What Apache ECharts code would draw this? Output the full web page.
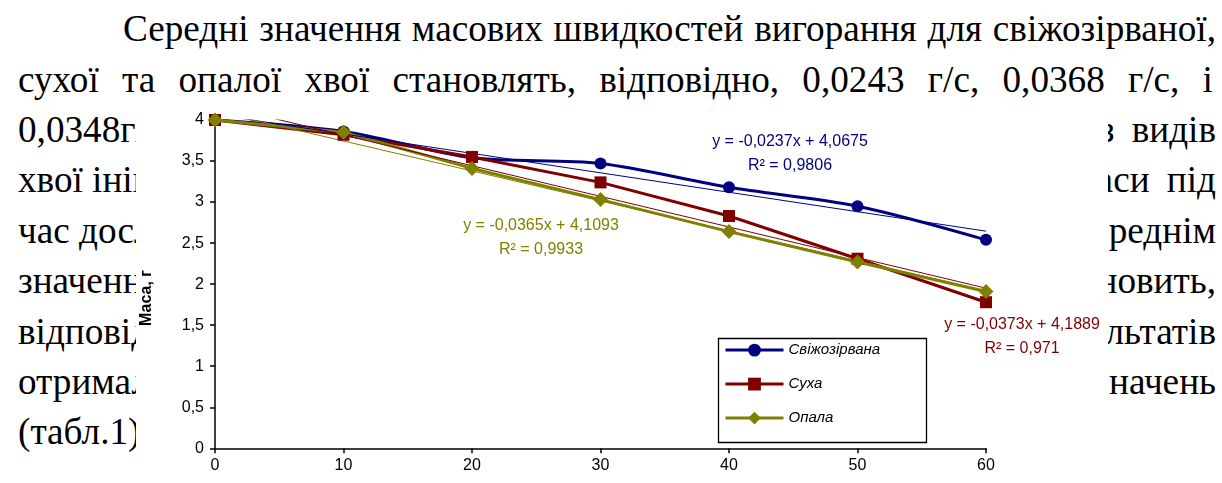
<!DOCTYPE html>
<html>
<head>
<meta charset="utf-8">
<script src="https://cdn.jsdelivr.net/npm/echarts@6/dist/echarts.min.js"></script>
<style>
html, body { margin:0; padding:0; background:#fff; width:1222px; height:483px; overflow:hidden; position:relative; }
.ln { position:absolute; font-family:"Liberation Serif","Times New Roman",serif; font-size:37.2px; line-height:37.2px; color:#000; white-space:nowrap; }
.just { display:flex; justify-content:space-between; }
.rt { text-align:right; word-spacing:8px; }
#chart { position:absolute; left:136px; top:103px; width:972px; height:380px; background:#fff; }
</style>
</head>
<body>
<div id="chart"></div>
<script>
// ---- data ----
const xValues = [0, 10, 20, 30, 40, 50, 60];
const freshMass  = [4.0, 3.86, 3.54, 3.47, 3.18, 2.95, 2.54];
const dryMass    = [4.0, 3.82, 3.55, 3.24, 2.83, 2.31, 1.78];
const fallenMass = [4.0, 3.85, 3.41, 3.03, 2.64, 2.27, 1.91];
const seriesNames = ['Свіжозірвана', 'Суха', 'Опала'];
const trendX = [0, 60];
const freshTrend  = [4.0675, 2.6455];
const dryTrend    = [4.1889, 1.9509];
const fallenTrend = [4.1093, 1.9193];
const freshEq  = ['y = -0,0237x + 4,0675', 'R² = 0,9806'];
const dryEq    = ['y = -0,0373x + 4,1889', 'R² = 0,971'];
const fallenEq = ['y = -0,0365x + 4,1093', 'R² = 0,9933'];
const xTickLabels = ['0', '10', '20', '30', '40', '50', '60'];
const yTickLabels = ['0', '0,5', '1', '1,5', '2', '2,5', '3', '3,5', '4'];
const yAxisTitle = 'Маса, г';

// ---- surrounding document text ----
const fullLines = [
  'Середні значення масових швидкостей вигорання для свіжозірваної,',
  'сухої та опалої хвої становлять, відповідно, 0,0243 г/с, 0,0368 г/с, і'
];
const leftFragments = ['0,0348г/с', 'хвої ініціює', 'час досліду', 'значення', 'відповідно', 'отримали', '(табл.1)'];
const rightFragments = ['з видів', 'маси під', 'середнім', 'становить,', 'результатів', 'значень', ''];

(function buildText(){
  const lineStep = 50.4, firstCenter = 33, topOff = 22.8;
  const body = document.body, chartEl = document.getElementById('chart');
  function mk(cls, txt, top){
    const d = document.createElement('div');
    d.className = 'ln ' + cls;
    d.style.top = (top) + 'px';
    body.insertBefore(d, chartEl);
    if (cls === 'just') {
      txt.split(' ').forEach(w => { const s = document.createElement('span'); s.textContent = w; d.appendChild(s); });
    } else d.textContent = txt;
    return d;
  }
  const l1 = mk('just', fullLines[0], firstCenter - topOff);
  l1.style.left = '123px'; l1.style.width = (1216 - 123) + 'px';
  const l2 = mk('just', fullLines[1], firstCenter + lineStep - topOff);
  l2.style.left = '18px'; l2.style.width = (1213 - 18) + 'px';
  for (let i = 0; i < leftFragments.length; i++) {
    const c = firstCenter + lineStep * (i + 2) - topOff;
    const a = mk('', leftFragments[i], c); a.style.left = '18px';
    if (rightFragments[i]) { const b = mk('rt', rightFragments[i], c); b.style.right = (1222 - 1216) + 'px'; }
  }
})();

// ---- chart ----
const font = '"Liberation Sans", Arial, sans-serif';
const chart = echarts.init(document.getElementById('chart'), null, { renderer: 'canvas' });
const zip = (xs, ys) => xs.map((x, i) => [x, ys[i]]);
const colors = ['#000080', '#800000', '#808000'];

function eqText(lines, cx, cy, color) {
  return lines.map((t, i) => ({
    type: 'text', x: cx, y: cy + i * 24, z: 100,
    style: { text: t, fill: color, font: '16px ' + font, align: 'center', verticalAlign: 'middle' }
  }));
}

chart.setOption({
  animation: false,
  backgroundColor: '#fff',
  grid: { left: 79, top: 17, right: 122, bottom: 34.7, containLabel: false },
  xAxis: {
    type: 'value', min: 0, max: 60, interval: 10,
    axisLine: { lineStyle: { color: '#000', width: 1.5 } },
    axisTick: { show: true, inside: false, length: 5, lineStyle: { color: '#000', width: 1.5 } },
    axisLabel: { color: '#000', fontFamily: font, fontSize: 16, margin: 9,
      formatter: v => xTickLabels[Math.round(v / 10)] },
    splitLine: { show: false }
  },
  yAxis: {
    type: 'value', min: 0, max: 4, interval: 0.5,
    axisLine: { show: true, lineStyle: { color: '#000', width: 1.5 } },
    axisTick: { show: true, inside: false, length: 5, lineStyle: { color: '#000', width: 1.5 } },
    axisLabel: { color: '#000', fontFamily: font, fontSize: 16, margin: 11,
      formatter: v => yTickLabels[Math.round(v * 2)] },
    splitLine: { show: false }
  },
  legend: {
    data: seriesNames, orient: 'vertical', left: 588, top: 239.6,
    itemWidth: 58, itemHeight: 16, itemGap: 19, padding: 0,
    lineStyle: { width: 3 },
    textStyle: { color: '#000', fontFamily: font, fontSize: 15, fontStyle: 'italic' }
  },
  graphic: [
    { type: 'rect', shape: { x: 582.5, y: 235.5, width: 208, height: 104 }, z: 50,
      style: { fill: 'none', stroke: '#000', lineWidth: 1.3 } },
    { type: 'text', x: 11, y: 195, rotation: Math.PI / 2, z: 100,
      style: { text: yAxisTitle, fill: '#000', font: 'bold 16px ' + font, align: 'center', verticalAlign: 'middle' } }
  ].concat(eqText(freshEq, 654, 39, colors[0]))
   .concat(eqText(fallenEq, 405, 123, colors[2]))
   .concat(eqText(dryEq, 886, 222, colors[1])),
  series: [
    { name: seriesNames[0], type: 'line', data: zip(xValues, freshMass), smooth: 0.3,
      symbol: 'circle', symbolSize: 12, itemStyle: { color: colors[0] },
      lineStyle: { color: colors[0], width: 3 } },
    { name: seriesNames[1], type: 'line', data: zip(xValues, dryMass),
      symbol: 'rect', symbolSize: 12, itemStyle: { color: colors[1] },
      lineStyle: { color: colors[1], width: 3 } },
    { name: seriesNames[2], type: 'line', data: zip(xValues, fallenMass),
      symbol: 'diamond', symbolSize: [15, 15], itemStyle: { color: colors[2] },
      lineStyle: { color: colors[2], width: 3 } },
    { name: 'trend1', type: 'line', data: zip(trendX, freshTrend), symbol: 'none', silent: true,
      lineStyle: { color: colors[0], width: 1 } },
    { name: 'trend2', type: 'line', data: zip(trendX, dryTrend), symbol: 'none', silent: true,
      lineStyle: { color: colors[1], width: 1 } },
    { name: 'trend3', type: 'line', data: zip(trendX, fallenTrend), symbol: 'none', silent: true,
      lineStyle: { color: colors[2], width: 1 } }
  ]
});
</script>
</body>
</html>
